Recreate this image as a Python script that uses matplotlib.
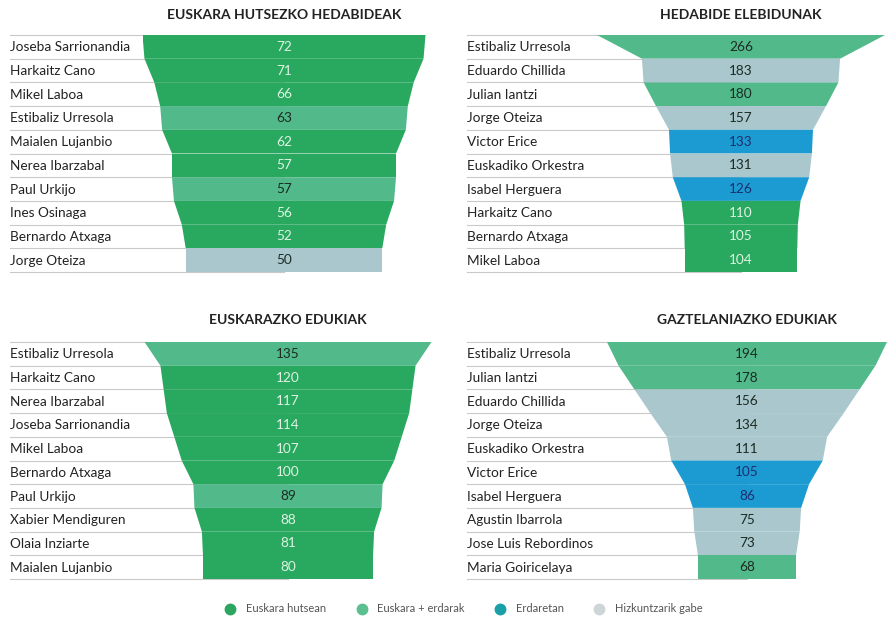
import matplotlib
matplotlib.use("Agg")
import matplotlib.pyplot as plt
from matplotlib import transforms
from matplotlib.lines import Line2D

plt.rcParams['font.family'] = ['Lato', 'DejaVu Sans']

# colours per language category
colors = {'hutsean': '#29a85f', 'erdarak': '#52b98a', 'erdaretan': '#1b9bd1', 'gabe': '#a9c7cc'}
text_colors = {'hutsean': '#dff3e2', 'erdarak': '#1c2b24', 'erdaretan': '#1b2f70', 'gabe': '#1c2b24'}
legend_labels = ['Euskara hutsean', 'Euskara + erdarak', 'Erdaretan', 'Hizkuntzarik gabe']
legend_marker_colors = ['#2ba560', '#5cbf8f', '#1a9fa8', '#cdd5d7']

# data
titles = ['EUSKARA HUTSEZKO HEDABIDEAK', 'HEDABIDE ELEBIDUNAK',
          'EUSKARAZKO EDUKIAK', 'GAZTELANIAZKO EDUKIAK']

names1 = ['Joseba Sarrionandia', 'Harkaitz Cano', 'Mikel Laboa', 'Estibaliz Urresola',
          'Maialen Lujanbio', 'Nerea Ibarzabal', 'Paul Urkijo', 'Ines Osinaga',
          'Bernardo Atxaga', 'Jorge Oteiza']
values1 = [72, 71, 66, 63, 62, 57, 57, 56, 52, 50]
cats1 = ['hutsean', 'hutsean', 'hutsean', 'erdarak', 'hutsean', 'hutsean', 'erdarak',
         'hutsean', 'hutsean', 'gabe']

names2 = ['Estibaliz Urresola', 'Eduardo Chillida', 'Julian Iantzi', 'Jorge Oteiza',
          'Victor Erice', 'Euskadiko Orkestra', 'Isabel Herguera', 'Harkaitz Cano',
          'Bernardo Atxaga', 'Mikel Laboa']
values2 = [266, 183, 180, 157, 133, 131, 126, 110, 105, 104]
cats2 = ['erdarak', 'gabe', 'erdarak', 'gabe', 'erdaretan', 'gabe', 'erdaretan',
         'hutsean', 'hutsean', 'hutsean']

names3 = ['Estibaliz Urresola', 'Harkaitz Cano', 'Nerea Ibarzabal', 'Joseba Sarrionandia',
          'Mikel Laboa', 'Bernardo Atxaga', 'Paul Urkijo', 'Xabier Mendiguren',
          'Olaia Inziarte', 'Maialen Lujanbio']
values3 = [135, 120, 117, 114, 107, 100, 89, 88, 81, 80]
cats3 = ['erdarak', 'hutsean', 'hutsean', 'hutsean', 'hutsean', 'hutsean', 'erdarak',
         'hutsean', 'hutsean', 'hutsean']

names4 = ['Estibaliz Urresola', 'Julian Iantzi', 'Eduardo Chillida', 'Jorge Oteiza',
          'Euskadiko Orkestra', 'Victor Erice', 'Isabel Herguera', 'Agustin Ibarrola',
          'Jose Luis Rebordinos', 'Maria Goiricelaya']
values4 = [194, 178, 156, 134, 111, 105, 86, 75, 73, 68]
cats4 = ['erdarak', 'erdarak', 'gabe', 'gabe', 'gabe', 'erdaretan', 'erdaretan',
         'gabe', 'gabe', 'erdarak']

W, H = 888, 620
fig = plt.figure(figsize=(W / 100, H / 100), dpi=100)

row_h = 23.7
# (names, values, cats, bar centre px, widest bar px, top px, label x px, title y px)
panels = [
    (names1, values1, cats1, 284, 283, 35, 10, 15),
    (names2, values2, cats2, 741, 288, 35, 467, 15),
    (names3, values3, cats3, 288, 287, 342, 10, 320),
    (names4, values4, cats4, 747, 280, 342, 467, 320),
]

for title, (names, values, cats, cx, wmax, top, lx, ty) in zip(titles, panels):
    n = len(values)
    ax = fig.add_axes([(cx - wmax / 2) / W, 1 - (top + n * row_h) / H, wmax / W, n * row_h / H])
    vmax = max(values)
    ax.set_xlim(-vmax / 2, vmax / 2)
    ax.set_ylim(n, 0)
    ax.axis('off')
    blend = transforms.blended_transform_factory(fig.transFigure, ax.transData)

    for i in range(n + 1):
        ax.plot([lx / W, cx / W], [i, i], transform=blend, color='#c9c9c9', lw=0.8,
                zorder=0, clip_on=False)

    for i, (name, v, c) in enumerate(zip(names, values, cats)):
        nxt = values[i + 1] if i + 1 < n else v
        ax.fill([-v / 2, v / 2, nxt / 2, -nxt / 2], [i, i, i + 1, i + 1],
                color=colors[c], lw=0, zorder=2)
        ax.text(0, i + 0.5, str(v), ha='center', va='center', fontsize=9.8,
                color=text_colors[c], zorder=3)
        ax.text(lx / W, i + 0.52, name, transform=blend, ha='left', va='center',
                fontsize=9.8, color='#222222')

    fig.text(cx / W, 1 - ty / H, title, ha='center', va='center', fontsize=10,
             fontweight='bold', color='#222222')

handles = [Line2D([], [], marker='o', ls='', markersize=7.5, markerfacecolor=mc,
                  markeredgecolor=mc) for mc in legend_marker_colors]
fig.legend(handles, legend_labels, loc='center', bbox_to_anchor=(461 / W, 1 - 609 / H),
           ncol=4, frameon=False, fontsize=8, handletextpad=0.4, columnspacing=2.2,
           labelcolor='#555555')

fig.savefig('out.png', dpi=100, facecolor='white')
